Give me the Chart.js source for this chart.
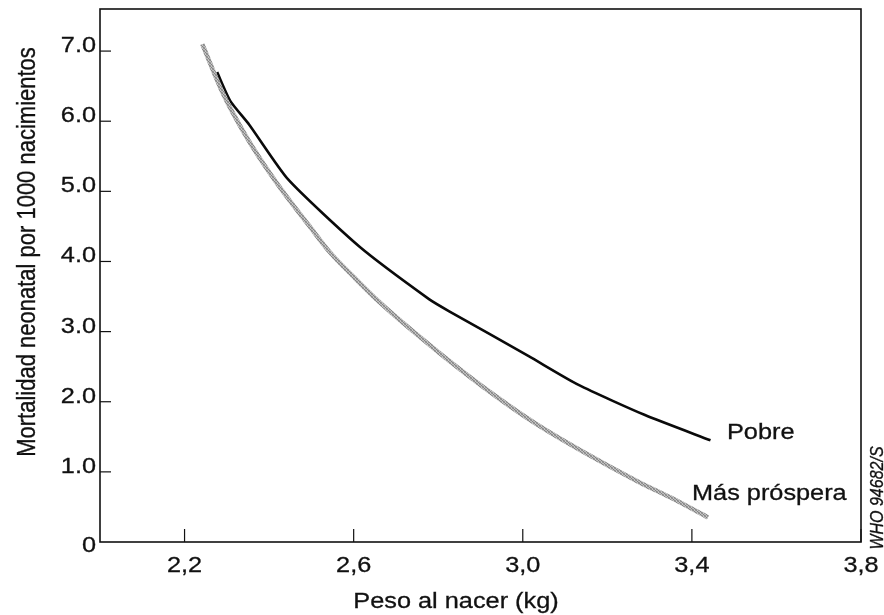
<!DOCTYPE html>
<html>
<head>
<meta charset="utf-8">
<script src="https://cdn.jsdelivr.net/npm/chart.js@4"></script>
<style>
  html, body { margin: 0; padding: 0; background: #ffffff; }
  #wrap { width: 884px; height: 615px; }
</style>
</head>
<body>
<div id="wrap"><canvas id="c" width="884" height="615"></canvas></div>
<script>
// ---- data ----
const pobreWeights = [2.277, 2.308, 2.353, 2.445, 2.614, 2.779, 2.826, 3.014, 3.132, 3.289, 3.444];
const pobreMortality = [6.70, 6.29, 5.95, 5.17, 4.21, 3.46, 3.29, 2.65, 2.24, 1.81, 1.45];

const prosperaWeights = [2.242, 2.292, 2.348, 2.418, 2.496, 2.544, 2.600, 2.661, 2.802, 2.936, 3.038, 3.273, 3.351, 3.438];
const prosperaMortality = [7.10, 6.38, 5.76, 5.12, 4.50, 4.13, 3.78, 3.42, 2.70, 2.08, 1.66, 0.86, 0.63, 0.35];

const xTickValues = [2.2, 2.6, 3.0, 3.4, 3.8];
const xTickLabels = ['2,2', '2,6', '3,0', '3,4', '3,8'];
const yTickValues = [0, 1, 2, 3, 4, 5, 6, 7];
const yTickLabels = ['0', '1.0', '2.0', '3.0', '4.0', '5.0', '6.0', '7.0'];

const seriesNames = ['Pobre', 'Más próspera'];
const xTitle = 'Peso al nacer (kg)';
const yTitle = 'Mortalidad neonatal por 1000 nacimientos';
const sourceNote = 'WHO 94682/S';

// ---- styling ----
const FONT = '"Liberation Sans", Arial, Helvetica, sans-serif';
const SX = 1.15; // horizontal stretch of the lettering in the reference
const INK = '#111111';

function makeToner() {
  const c = document.createElement('canvas');
  c.width = 3; c.height = 3;
  const g = c.getContext('2d');
  const px = ['#8a8a8a','#c8c8c8','#9a9a9a','#c0c0c0','#808080','#b8b8b8','#9c9c9c','#bcbcbc','#888888'];
  for (let i = 0; i < 9; i++) { g.fillStyle = px[i]; g.fillRect(i % 3, Math.floor(i / 3), 1, 1); }
  return g.createPattern(c, 'repeat');
}

function toPts(xs, ys) { return xs.map((x, i) => ({ x: x, y: ys[i] })); }

function inkText(ctx, text) {
  ctx.fillStyle = INK;
  ctx.strokeStyle = INK;
  ctx.lineWidth = 0.3;
  ctx.fillText(text, 0, 0);
  ctx.strokeText(text, 0, 0);
}

function stretchedText(ctx, text, x, y, align, baseline, size, style, rotate) {
  ctx.save();
  ctx.font = (style ? style + ' ' : '') + size + 'px ' + FONT;
  ctx.textAlign = align;
  ctx.textBaseline = baseline;
  ctx.translate(x, y);
  ctx.scale(SX, 1);
  if (rotate) ctx.rotate(-Math.PI / 2);
  inkText(ctx, text);
  ctx.restore();
}

const framePlugin = {
  id: 'frame',
  afterDraw(chart) {
    const ctx = chart.ctx;
    const a = chart.chartArea;
    const xs = chart.scales.x, ys = chart.scales.y;
    ctx.save();
    ctx.strokeStyle = INK;
    ctx.lineWidth = 1.6;
    ctx.strokeRect(a.left, a.top, a.right - a.left, a.bottom - a.top);
    // inward ticks
    xTickValues.forEach((v, i) => {
      const px = xs.getPixelForValue(v);
      ctx.strokeStyle = INK;
      ctx.lineWidth = 1.2;
      ctx.beginPath(); ctx.moveTo(px, a.bottom); ctx.lineTo(px, a.bottom - 13); ctx.stroke();
      stretchedText(ctx, xTickLabels[i], px, a.bottom + 30, 'center', 'alphabetic', 22);
    });
    yTickValues.forEach((v, i) => {
      const py = ys.getPixelForValue(v);
      if (v !== 0) {
        ctx.strokeStyle = INK;
        ctx.lineWidth = 1.2;
        ctx.beginPath(); ctx.moveTo(a.left, py); ctx.lineTo(a.left + 11, py); ctx.stroke();
      }
      stretchedText(ctx, yTickLabels[i], a.left - 4, py + (v === 0 ? 10 : 1), 'right', 'alphabetic', 22);
    });
    // axis titles
    stretchedText(ctx, xTitle, 456, 608, 'center', 'alphabetic', 22);
    stretchedText(ctx, yTitle, 28, 252, 'center', 'middle', 22, '', true);
    // series labels
    stretchedText(ctx, seriesNames[0], 727, 439, 'left', 'alphabetic', 22);
    stretchedText(ctx, seriesNames[1], 692, 500, 'left', 'alphabetic', 22);
    // source note
    stretchedText(ctx, sourceNote, 878, 498, 'center', 'middle', 16, 'italic', true);
    ctx.restore();
  }
};

new Chart(document.getElementById('c'), {
  type: 'line',
  data: {
    datasets: [
      {
        label: seriesNames[1],
        data: toPts(prosperaWeights, prosperaMortality),
        borderColor: makeToner(),
        borderWidth: 4.5,
        pointRadius: 0,
        tension: 0.3,
        cubicInterpolationMode: 'monotone',
        fill: false
      },
      {
        label: seriesNames[0],
        data: toPts(pobreWeights, pobreMortality),
        borderColor: '#0a0a0a',
        borderWidth: 2.6,
        pointRadius: 0,
        tension: 0.2,
        fill: false
      }
    ]
  },
  options: {
    responsive: false,
    animation: false,
    layout: { padding: { top: 9, right: 23, left: 0, bottom: 0 } },
    plugins: { legend: { display: false }, tooltip: { enabled: false } },
    scales: {
      x: {
        type: 'linear',
        min: 2.0, max: 3.8,
        grid: { display: false },
        border: { display: false },
        ticks: { display: false },
        afterBuildTicks(s) { s.ticks = xTickValues.map(v => ({ value: v })); },
        afterFit(s) { s.height = 73; }
      },
      y: {
        type: 'linear',
        min: 0, max: 7.6,
        grid: { display: false },
        border: { display: false },
        ticks: { display: false },
        afterBuildTicks(s) { s.ticks = yTickValues.map(v => ({ value: v })); },
        afterFit(s) { s.width = 100; }
      }
    }
  },
  plugins: [framePlugin]
});
</script>
</body>
</html>
